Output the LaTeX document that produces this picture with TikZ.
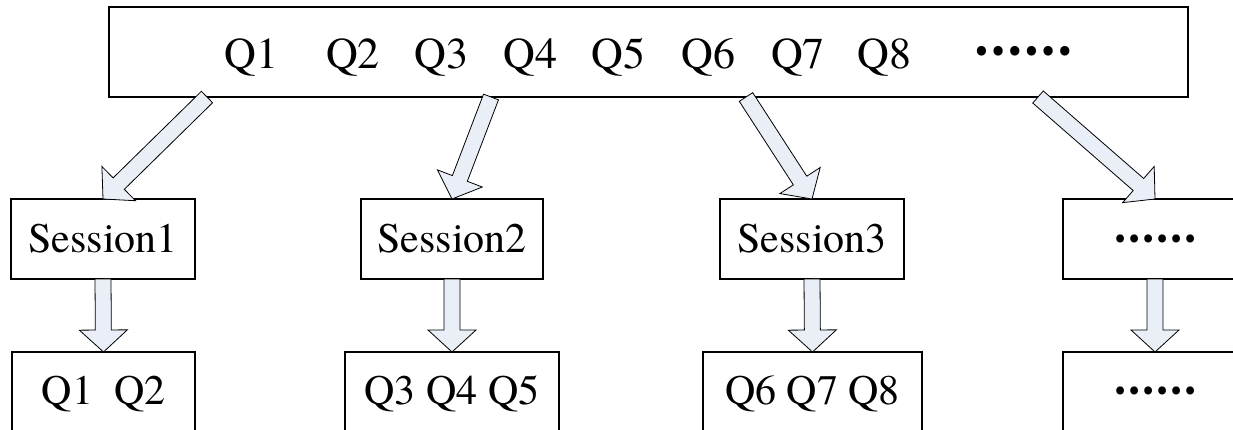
\documentclass[tikz,border=0pt]{standalone}
\usepackage{fontspec}
\setmainfont{TeX Gyre Termes}
\newfontfamily\serifmain{TeX Gyre Termes}
\newfontfamily\cjkfont[RawFeature=+fwid]{Noto Sans CJK SC}
\usetikzlibrary{calc}
\definecolor{arrowfill}{RGB}{234,239,247}

% wide block arrow from tail #1 to tip #2
\newcommand{\shaftw}{8pt}
\newcommand{\headw}{24pt}
\newcommand{\headl}{22pt}
\newcommand{\blockarrow}[2]{%
  \coordinate (ah) at ($(#2)!\headl!(#1)$);
  \draw[blockarrow]
    ($(#1)!\shaftw!90:(#2)$) -- ($(ah)!\shaftw!90:(#2)$) --
    ($(ah)!\headw!90:(#2)$) -- (#2) --
    ($(ah)!\headw!-90:(#2)$) -- ($(ah)!\shaftw!-90:(#2)$) --
    ($(#1)!\shaftw!-90:(#2)$) -- cycle;}
% six centred dots
\newcommand{\moredots}[2]{\raisebox{#2}{\fontsize{#1}{#1}\cjkfont\bfseries ……}}

\begin{document}
\begin{tikzpicture}[x=1pt,y=-1pt,
  box/.style={draw=black, line width=2.6pt, fill=white, inner sep=0pt,
    outer sep=0pt, text depth=0pt, text height=27pt,
    font=\serifmain\fontsize{42}{48}\selectfont},
  lowbox/.style={box, text height=20pt},
  blockarrow/.style={draw=black, line width=0.8pt, fill=arrowfill,
    line join=miter}]
\useasboundingbox (0,0) rectangle (1233,430);

% query stream
\node[box, minimum width=1079pt, minimum height=90pt, text height=34pt,
  font=\serifmain\fontsize{44}{50}\selectfont] (top) at (648.5,52)
  {Q1\hspace{48pt}Q2\hspace{35pt}Q3\hspace{35pt}Q4\hspace{34pt}Q5\hspace{36pt}Q6\hspace{36pt}Q7\hspace{33pt}Q8\hspace{62pt}\moredots{44}{13pt}};

% sessions
\node[box, minimum width=184pt, minimum height=80pt] (s1) at (103,239) {Session1};
\node[box, minimum width=182pt, minimum height=80pt] (s2) at (452,239) {Session2};
\node[box, minimum width=184pt, minimum height=80pt] (s3) at (812,239) {Session3};
\node[box, minimum width=184pt, minimum height=80pt] (s4) at (1155,239) {\moredots{37}{10pt}};

% queries grouped per session
\node[lowbox, minimum width=183pt, minimum height=84pt] (b1) at (103.5,394) {Q1\hspace{21pt}Q2};
\node[lowbox, minimum width=214pt, minimum height=84pt] (b2) at (452,394) {Q3 Q4 Q5};
\node[lowbox, minimum width=219pt, minimum height=84pt] (b3) at (812.5,394) {Q6 Q7 Q8};
\node[lowbox, minimum width=184pt, minimum height=84pt] (b4) at (1155,394) {\moredots{37}{10pt}};

% arrow tails on the stream box
\coordinate (t1) at ($(top.south west)+(98,0)$);
\coordinate (t2) at ($(top.south west)+(382,0)$);
\coordinate (t3) at ($(top.south west)+(637,0)$);
\coordinate (t4) at ($(top.south west)+(929,0)$);

\blockarrow{t1}{s1.north}
\blockarrow{t2}{s2.north}
\blockarrow{t3}{s3.north}
\blockarrow{t4}{s4.north}

\blockarrow{s1.south}{b1.north}
\blockarrow{s2.south}{b2.north}
\blockarrow{s3.south}{b3.north}
\blockarrow{s4.south}{b4.north}
\end{tikzpicture}
\end{document}
